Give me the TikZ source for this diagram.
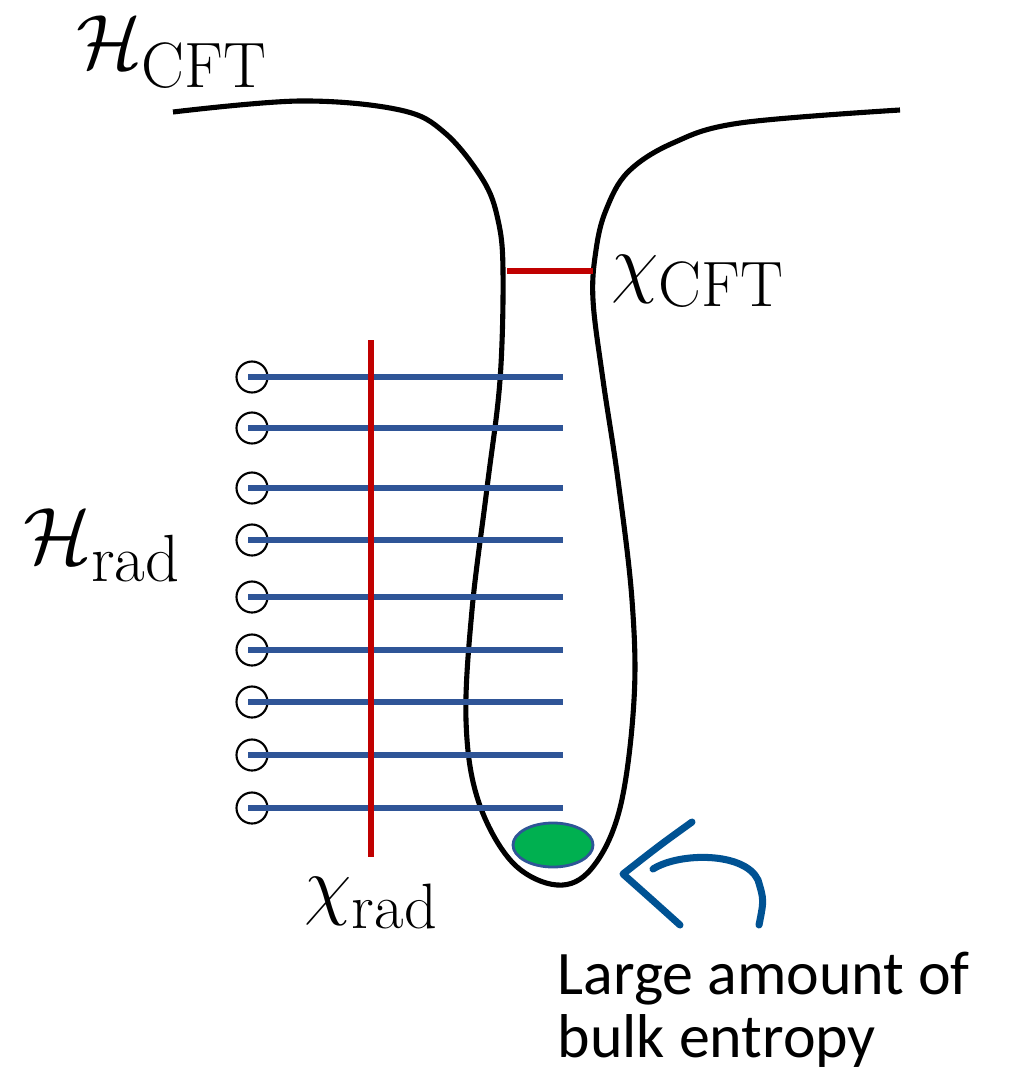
\documentclass[tikz,border=0pt]{standalone}
\usepackage{fontspec}
\newfontfamily\notefont{Carlito}
\usetikzlibrary{positioning,shapes.geometric}
\definecolor{radblue}{RGB}{47,85,151}
\definecolor{cutred}{RGB}{192,0,0}
\definecolor{bulkgreen}{RGB}{0,176,80}
\definecolor{handblue}{RGB}{0,82,147}
\tikzset{
    % Boundary of the geometry
    boundary/.style={
        draw=black,
        line width=1.45pt,
        line join=round
    },
    % Radiation qubits
    qubit/.style={
        circle,
        draw=black,
        line width=0.6pt,
        minimum size=0.31cm,
        inner sep=0pt
    },
    % Entangling lines
    radline/.style={
        draw=radblue,
        line width=1.7pt
    },
    % Cuts
    cutline/.style={
        draw=cutred,
        line width=1.6pt
    },
    % Math labels
    mathlabel/.style={
        font=\Huge,
        scale=0.88,
        inner sep=0pt,
        anchor=base west
    },
    % Hand drawn pointer
    handarrow/.style={
        draw=handblue,
        line width=2pt,
        line cap=round,
        line join=round
    },
    % Note text
    notetext/.style={
        font=\notefont\fontsize{17.6}{17.9}\selectfont,
        align=left,
        inner sep=0pt,
        anchor=base west
    }
}
\begin{document}
\begin{tikzpicture}[x=0.01cm, y=-0.01cm]
\useasboundingbox (0,0) rectangle (1009,1070);

% ==================== LABELS ====================
\node[mathlabel] (hcft) at (76,69) {$\mathcal{H}_{\mathrm{CFT}}$};
\node[mathlabel, scale=1.04] (hrad) at (23,563) {$\mathcal{H}_{\mathrm{rad}}$};
\node[mathlabel] (chicft) at (611,288) {$\chi_{\mathrm{CFT}}$};
\node[mathlabel] (chirad) at (304,910) {$\chi_{\mathrm{rad}}$};

% ==================== BOUNDARY ====================
\draw[boundary] plot[smooth, tension=0.6] coordinates {
    (173,112) (300,101) (400,110) (445,133) (483,180) (498,220) (503,271)
    (500,380) (487,488) (472,610) (466,720) (478,800) (512,862) (557,885)
    (592,868) (620,808) (634,700) (632,600) (618,480) (603,380) (593,300)
    (596,250) (606,210) (628,172) (673,143) (740,123) (900,110)};

% ==================== CUTS ====================
\coordinate (cutL) at (507,271);
\coordinate (cutR) at (593,271);
\draw[cutline] (cutL) -- (cutR);

% ==================== RADIATION ====================
\foreach \i/\y in {1/377,2/428,3/488,4/540,5/597,6/650,7/702,8/755,9/808} {
    \node[qubit] (qubit\i) at (252,\y) {};
    \coordinate (end\i) at (563,\y);
    \draw[radline] ([xshift=-0.04cm]qubit\i.center) -- (end\i);
}

\coordinate (radtop) at (371,340);
\coordinate (radbot) at (371,857);
\draw[cutline] (radtop) -- (radbot);

% ==================== BULK ENTROPY ====================
\node[ellipse, draw=radblue, line width=0.8pt, fill=bulkgreen,
    minimum width=0.8cm, minimum height=0.44cm, inner sep=0pt] (bulk) at (553,845) {};

% Hand drawn pointer
\draw[handarrow] (692,822) .. controls (660,845) .. (623,874)
    .. controls (650,898) .. (680,925);
\draw[handarrow] (653,869) .. controls (680,852) and (745,852) .. (758,880)
    .. controls (764,900) .. (759,925);

\node[notetext] (note) at (557,1057) {Large amount of\\bulk entropy};

\end{tikzpicture}
\end{document}
